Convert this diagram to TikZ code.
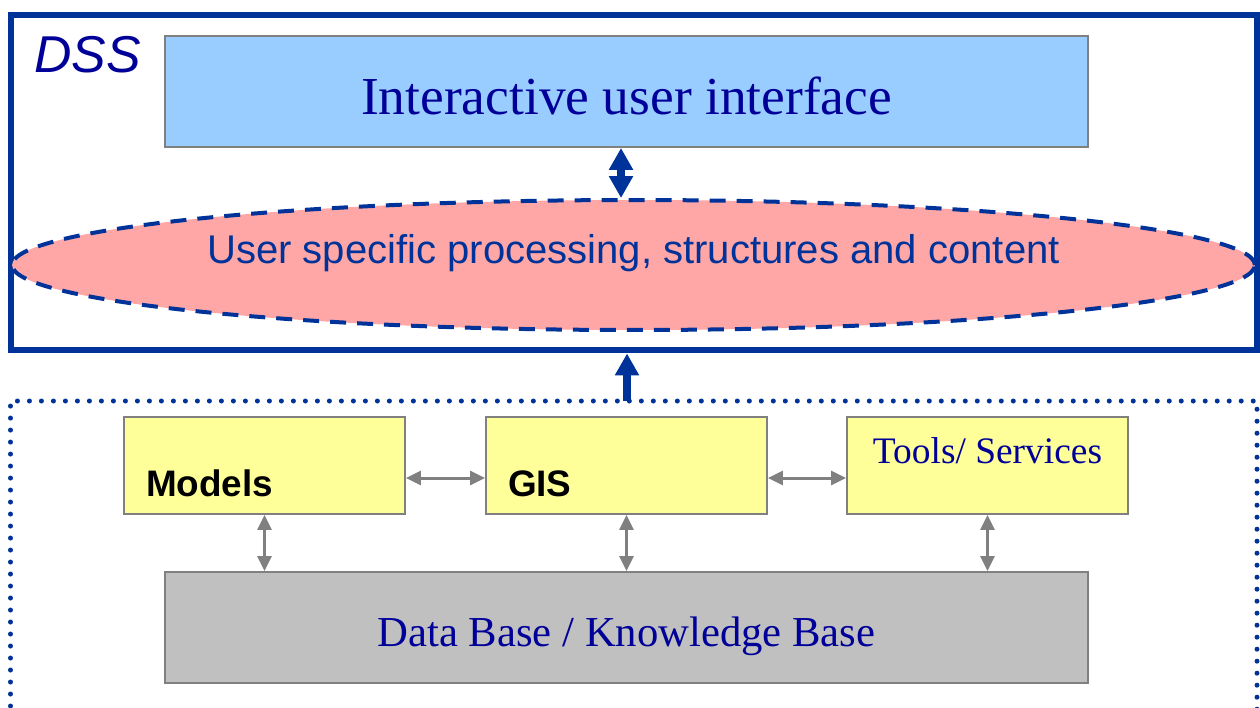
\documentclass[tikz,border=0pt]{standalone}
\usepackage{fontspec}
\setmainfont{Liberation Serif}
\setsansfont{Liberation Sans}
\usetikzlibrary{arrows.meta,shapes.geometric}
\definecolor{dssblue}{RGB}{0,51,153}
\definecolor{navy}{RGB}{0,0,153}
\definecolor{uiblue}{RGB}{153,204,255}
\definecolor{procpink}{RGB}{255,166,166}
\definecolor{toolyellow}{RGB}{255,255,153}
\definecolor{dbgray}{RGB}{192,192,192}
\newcommand{\Fsz}[1]{\fontsize{#1}{#1}\selectfont}
\tikzset{bighead/.tip={Triangle[length=0.44cm,width=0.46cm]},
  smallhead/.tip={Triangle[length=0.3cm,width=0.28cm]}}

\begin{document}
\begin{tikzpicture}[x=0.02cm,y=-0.02cm,
  box/.style={rectangle,draw=gray,line width=0.04cm,inner sep=0pt},
  unit/.style={box,fill=toolyellow,minimum width=5.62cm,minimum height=1.94cm},
  flow/.style={dssblue,line width=0.16cm},
  link/.style={gray,line width=0.06cm,smallhead-smallhead}]
\useasboundingbox (0,0) rectangle (1260,707);
% \draw[help lines] (0,0) grid[step=50] (1260,707);
\node (dss) [rectangle,draw=dssblue,line width=0.12cm,minimum width=24.92cm,minimum height=6.72cm,inner sep=0pt] at (634,182.5) {};
\node (dsslabel) [anchor=base west,inner sep=0pt,text=navy,font=\sffamily\itshape\Fsz{29.5}] at (34,72.7) {DSS};
\node (ui) [box,fill=uiblue,minimum width=18.46cm,minimum height=2.22cm,text=navy,font=\Fsz{30.4},text height=0.9cm,text depth=0pt] at (626.5,91.5) {Interactive user interface};
\node (proc) [ellipse,draw=dssblue,fill=procpink,line width=0.08cm,dash pattern=on 0.32cm off 0.22cm,minimum width=24.86cm,minimum height=2.6cm,inner sep=0pt,text=dssblue,font=\sffamily\Fsz{22.8},text height=0.6cm,text depth=0.68cm] at (633.5,265) {User specific processing, structures and content};
%
\draw[dssblue,line width=0.1cm,line cap=round,dash pattern=on 0pt off 0.24cm] (10.5,730) -- (10.5,401) -- (1257,401) -- (1257,730);
\node (models) [unit,text width=4.74cm,align=left,text height=1.25cm,text depth=0pt,font=\sffamily\bfseries\Fsz{21}] at (264.5,465.5) {Models};
\node (gis) [unit,text width=4.74cm,align=left,text height=1.25cm,text depth=0pt,font=\sffamily\bfseries\Fsz{21}] at (626.5,465.5) {GIS};
\node (tools) [unit,text=navy,font=\Fsz{21.3},text height=0.52cm,text depth=0.62cm] at (987.5,465.5) {Tools/ Services};
\node (db) [box,fill=dbgray,minimum width=18.46cm,minimum height=2.22cm,text=navy,font=\Fsz{24.3},text height=0.77cm,text depth=0pt] at (626.5,627.5) {Data Base / Knowledge Base};
%
\coordinate (uiarr) at ([xshift=-0.11cm]ui.south);
\coordinate (feed) at (627,401);
\draw[flow,bighead-bighead] (uiarr) -- (uiarr |- proc.north);
\draw[flow,-bighead] (feed) -- (feed |- dss.south);
%
\draw[link] ([yshift=-0.25cm]models.east) -- ([yshift=-0.25cm]gis.west);
\draw[link] ([yshift=-0.25cm]gis.east) -- ([yshift=-0.25cm]tools.west);
\draw[link] (models.south) -- (models.south |- db.north);
\draw[link] (gis.south) -- (gis.south |- db.north);
\draw[link] (tools.south) -- (tools.south |- db.north);
\end{tikzpicture}
\end{document}
